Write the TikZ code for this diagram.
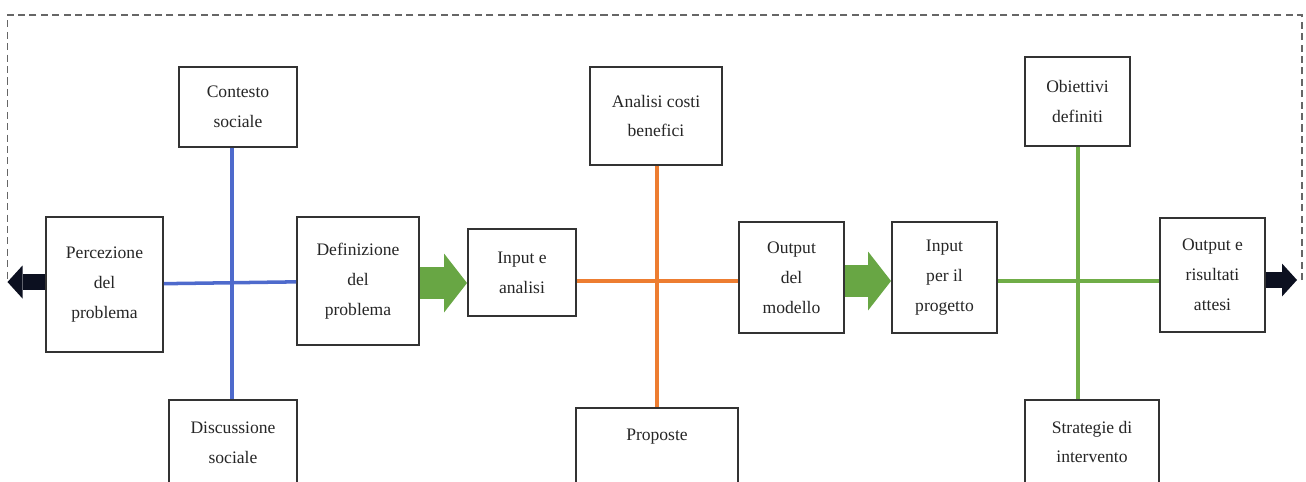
\documentclass[tikz,border=0pt]{standalone}
\usepackage{fontspec}
\setmainfont{Liberation Serif}
\usepackage{xcolor}
\usepackage{tikz}
\usetikzlibrary{arrows.meta}
\definecolor{cross_blue}{RGB}{78,106,204}
\definecolor{cross_orange}{RGB}{237,125,49}
\definecolor{cross_green}{RGB}{112,173,71}
\definecolor{arrow_green}{RGB}{104,166,68}
\definecolor{arrow_dark}{RGB}{12,16,32}

\begin{document}
\begin{tikzpicture}[
    box/.style={draw=black!80, line width=1.1pt, fill=white, align=center, inner sep=2pt,
        text=black!85, font=\fontsize{10}{17}\selectfont},
    crossline/.style={line width=2pt},
    fatarrow/.style={arrow_green, line width=0.64cm,
        -{Triangle[length=0.46cm, width=1.18cm, line width=0pt]}},
    backarrow/.style={arrow_dark, line width=0.31cm,
        -{Triangle[length=0.3cm, width=0.66cm, line width=0pt]}},
    feedback/.style={draw=black!60, line width=0.6pt, dash pattern=on 4pt off 2.5pt}
]
    \useasboundingbox (0,0) rectangle (26.12,-9.64);
    \clip (0,0) rectangle (26.12,-9.64);

    % Problema
    \node[box, minimum width=2.36cm, minimum height=1.6cm] (contesto) at (4.76,-2.14) {Contesto\\sociale};
    \node[box, minimum width=2.34cm, minimum height=2.7cm] (percezione) at (2.09,-5.69) {Percezione\\del\\problema};
    \node[box, minimum width=2.44cm, minimum height=2.56cm] (definizione) at (7.16,-5.62) {Definizione\\del\\problema};
    \node[box, minimum width=2.56cm, minimum height=1.72cm] (discussione) at (4.66,-8.86) {Discussione\\sociale};

    % Modello
    \node[box, minimum width=2.16cm, minimum height=1.74cm] (inputA) at (10.44,-5.45) {Input e\\analisi};
    \node[box, minimum width=2.64cm, minimum height=1.96cm] (costi) at (13.12,-2.32) {Analisi costi\\benefici};
    \node[box, minimum width=2.1cm, minimum height=2.22cm] (outputM) at (15.83,-5.55) {Output\\del\\modello};
    \node[box, minimum width=3.24cm, minimum height=1.68cm] (proposte) at (13.14,-9.0) {Proposte\\\mbox{}};

    % Progetto
    \node[box, minimum width=2.1cm, minimum height=2.22cm] (inputP) at (18.89,-5.55) {Input\\per il\\progetto};
    \node[box, minimum width=2.1cm, minimum height=1.78cm] (obiettivi) at (21.55,-2.03) {Obiettivi\\definiti};
    \node[box, minimum width=2.1cm, minimum height=2.28cm] (risultati) at (24.25,-5.5) {Output e\\risultati\\attesi};
    \node[box, minimum width=2.68cm, minimum height=1.68cm] (strategie) at (21.84,-8.84) {Strategie di\\intervento};

    % Crosses
    \coordinate (cA) at (4.64,-5.66);
    \coordinate (cB) at (13.14,-5.62);
    \coordinate (cC) at (21.56,-5.62);
    \draw[crossline, cross_blue] (percezione) -- (definizione);
    \draw[crossline, cross_blue] (contesto.south -| cA) -- (discussione.north -| cA);
    \draw[crossline, cross_orange] (inputA.east |- cB) -- (outputM.west |- cB);
    \draw[crossline, cross_orange] (costi.south -| cB) -- (proposte.north -| cB);
    \draw[crossline, cross_green] (inputP.east |- cC) -- (risultati.west |- cC);
    \draw[crossline, cross_green] (obiettivi.south -| cC) -- (strategie.north -| cC);

    % Flow arrows
    \draw[fatarrow] (definizione.east |- cA) -- (inputA.west |- cA);
    \draw[fatarrow] (outputM.east |- cB) -- (inputP.west |- cB);

    % Feedback loop
    \coordinate (lt) at (0.15,-5.64);
    \coordinate (rt) at (26.04,-5.6);
    \draw[backarrow] (percezione.west |- lt) -- (lt);
    \draw[backarrow] (risultati.east |- rt) -- ([xshift=-0.1cm]rt);
    \draw[feedback] (rt) -- (26.04,-0.3) -| (lt);
\end{tikzpicture}
\end{document}
